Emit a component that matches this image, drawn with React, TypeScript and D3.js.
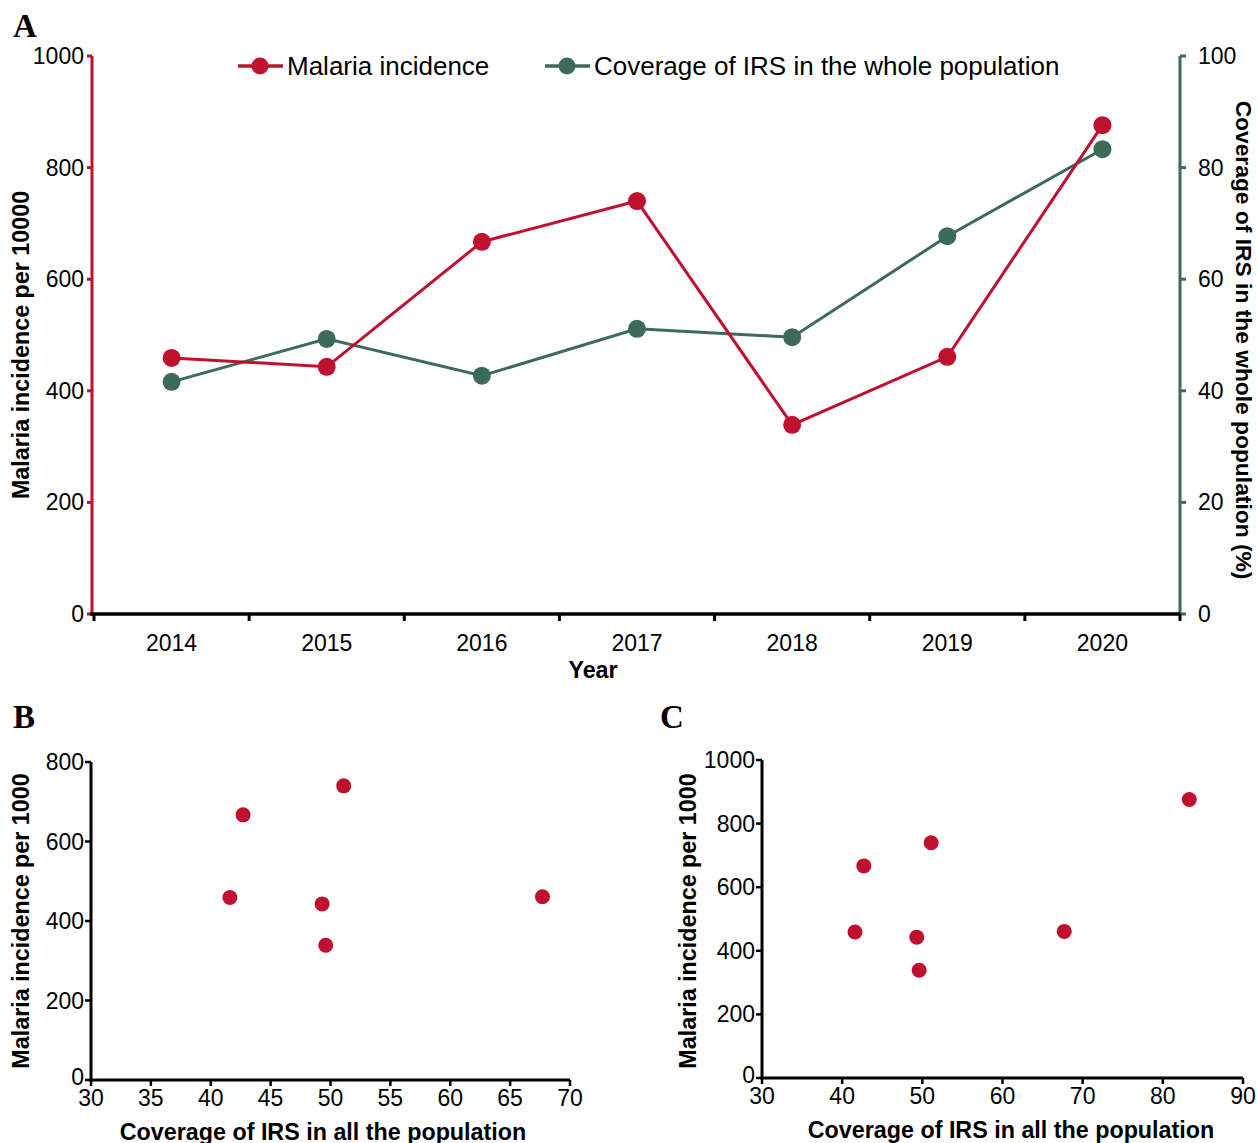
import * as d3 from 'd3';

const years = ['2014', '2015', '2016', '2017', '2018', '2019', '2020'];
const incidence = [459, 443, 667, 740, 339, 461, 876];
const coverage = [41.6, 49.3, 42.7, 51.1, 49.6, 67.7, 83.3];

const leftTicks = [0, 200, 400, 600, 800, 1000];
const rightTicks = [0, 20, 40, 60, 80, 100];
const bXTicks = [30, 35, 40, 45, 50, 55, 60, 65, 70];
const bYTicks = [0, 200, 400, 600, 800];
const cXTicks = [30, 40, 50, 60, 70, 80, 90];
const cYTicks = [0, 200, 400, 600, 800, 1000];

// scatter B leaves out 2020
const bCoverage = coverage.slice(0, 6);
const bIncidence = incidence.slice(0, 6);

const RED = '#c0102f';
const GREEN = '#3e6b59';
const SANS = '"Liberation Sans", Arial, sans-serif';
const SERIF = '"Liberation Serif", "Times New Roman", serif';
const TICK_FS = 23;
const TITLE_FS = 23.3;

function Scatter({ xs, ys, xDomain, yDomain, xTicks, yTicks, left, right, top, bottom, titleX }) {
  const x = d3.scaleLinear().domain(xDomain).range([left, right]);
  const y = d3.scaleLinear().domain(yDomain).range([bottom, top]);
  return (
    <g fontFamily={SANS}>
      {xs.map((v, i) => (
        <circle key={i} cx={x(v)} cy={y(ys[i])} r={7.5} fill={RED} />
      ))}
      <line x1={left} x2={left} y1={top} y2={bottom + 1.5} stroke="#000" strokeWidth={3} />
      <line x1={left - 1.5} x2={right} y1={bottom} y2={bottom} stroke="#000" strokeWidth={3} />
      {yTicks.map(t => (
        <g key={t}>
          <line x1={left - 6} x2={left} y1={y(t)} y2={y(t)} stroke="#000" strokeWidth={2.5} />
          <text x={left - 7} y={y(t) + (t === 0 ? 5 : 8)} textAnchor="end" fontSize={TICK_FS}>{t}</text>
        </g>
      ))}
      {xTicks.map(t => (
        <g key={t}>
          <line x1={x(t)} x2={x(t)} y1={bottom} y2={bottom + 6} stroke="#000" strokeWidth={2.5} />
          <text x={x(t)} y={bottom + 26} textAnchor="middle" fontSize={TICK_FS}>{t}</text>
        </g>
      ))}
      <text x={titleX} y={bottom + 60} textAnchor="middle" fontSize={TITLE_FS} fontWeight="bold">
        Coverage of IRS in all the population
      </text>
    </g>
  );
}

export default function App() {
  const width = 1258;
  const height = 1143;
  const aLeft = 94;
  const aRight = 1180;
  const aTop = 56;
  const aBottom = 614;

  const x = d3.scaleBand().domain(years).range([aLeft, aRight]).padding(0);
  const yL = d3.scaleLinear().domain([0, 1000]).range([aBottom, aTop]);
  const yR = d3.scaleLinear().domain([0, 100]).range([aBottom, aTop]);
  const cx = (yr) => x(yr) + x.bandwidth() / 2;

  const lineL = d3.line<number>().x((_, i) => cx(years[i])).y(d => yL(d));
  const lineR = d3.line<number>().x((_, i) => cx(years[i])).y(d => yR(d));

  const boundaries = [...years.map(yr => x(yr)), aRight];

  return (
    <svg width={width} height={height} style={{ display: 'block', position: 'absolute', left: 0, top: 0 }}>
      <rect width={width} height={height} fill="#fff" />
      <g fontFamily={SANS}>
        {/* Panel A */}
        <text x={13} y={37} fontFamily={SERIF} fontWeight="bold" fontSize={33}>A</text>

        <path d={lineR(coverage)} fill="none" stroke={GREEN} strokeWidth={3} />
        {coverage.map((v, i) => (
          <circle key={i} cx={cx(years[i])} cy={yR(v)} r={9} fill={GREEN} />
        ))}
        <path d={lineL(incidence)} fill="none" stroke={RED} strokeWidth={3} />
        {incidence.map((v, i) => (
          <circle key={i} cx={cx(years[i])} cy={yL(v)} r={9} fill={RED} />
        ))}

        {/* left axis */}
        <line x1={aLeft - 2} x2={aLeft - 2} y1={aTop} y2={aBottom} stroke={RED} strokeWidth={3} />
        {leftTicks.map(t => (
          <g key={t}>
            <line x1={aLeft - 7} x2={aLeft - 2} y1={yL(t)} y2={yL(t)} stroke={RED} strokeWidth={3} />
            <text x={aLeft - 10} y={yL(t) + 8} textAnchor="end" fontSize={TICK_FS}>{t}</text>
          </g>
        ))}
        <text transform={`translate(29, ${(aTop + aBottom) / 2 + 10}) rotate(-90)`} textAnchor="middle"
          fontSize={TITLE_FS} fontWeight="bold">Malaria incidence per 10000</text>

        {/* right axis */}
        <line x1={aRight} x2={aRight} y1={aTop} y2={aBottom} stroke={GREEN} strokeWidth={3} />
        {rightTicks.map(t => (
          <g key={t}>
            <line x1={aRight} x2={aRight + 6} y1={yR(t)} y2={yR(t)} stroke={GREEN} strokeWidth={3} />
            <text x={aRight + 18} y={yR(t) + 8} textAnchor="start" fontSize={TICK_FS}>{t}</text>
          </g>
        ))}
        <text transform={`translate(1236, ${(aTop + aBottom) / 2 + 5}) rotate(90)`} textAnchor="middle"
          fontSize={22.8} fontWeight="bold">Coverage of IRS in the whole population (%)</text>

        {/* bottom axis */}
        <line x1={aLeft - 4} x2={aRight} y1={aBottom} y2={aBottom} stroke="#000" strokeWidth={3.5} />
        {boundaries.map((b, i) => (
          <line key={i} x1={b} x2={b} y1={aBottom} y2={aBottom + 7} stroke="#000" strokeWidth={3} />
        ))}
        {years.map(yr => (
          <text key={yr} x={cx(yr)} y={aBottom + 37} textAnchor="middle" fontSize={TICK_FS}>{yr}</text>
        ))}
        <text x={593} y={aBottom + 64} textAnchor="middle" fontSize={TITLE_FS} fontWeight="bold">Year</text>

        {/* legend */}
        <line x1={238} x2={283} y1={66} y2={66} stroke={RED} strokeWidth={3.5} />
        <circle cx={260} cy={66} r={8.5} fill={RED} />
        <text x={287} y={75} fontSize={26}>Malaria incidence</text>
        <line x1={545} x2={590} y1={66} y2={66} stroke={GREEN} strokeWidth={3.5} />
        <circle cx={567} cy={66} r={8.5} fill={GREEN} />
        <text x={594} y={75} fontSize={26}>Coverage of IRS in the whole population</text>

        {/* Panel B */}
        <text x={13} y={728} fontFamily={SERIF} fontWeight="bold" fontSize={33}>B</text>
        <text transform={`translate(29, ${(762 + 1080) / 2}) rotate(-90)`} textAnchor="middle"
          fontSize={TITLE_FS} fontWeight="bold">Malaria incidence per 1000</text>
        <Scatter xs={bCoverage} ys={bIncidence} xDomain={[30, 70]} yDomain={[0, 800]}
          xTicks={bXTicks} yTicks={bYTicks} left={91} right={570} top={762} bottom={1080} titleX={323} />

        {/* Panel C */}
        <text x={660} y={728} fontFamily={SERIF} fontWeight="bold" fontSize={33}>C</text>
        <text transform={`translate(696, ${(760 + 1078) / 2 + 2}) rotate(-90)`} textAnchor="middle"
          fontSize={TITLE_FS} fontWeight="bold">Malaria incidence per 1000</text>
        <Scatter xs={coverage} ys={incidence} xDomain={[30, 90]} yDomain={[0, 1000]}
          xTicks={cXTicks} yTicks={cYTicks} left={762} right={1243} top={760} bottom={1078} titleX={1011} />
      </g>
    </svg>
  );
}
